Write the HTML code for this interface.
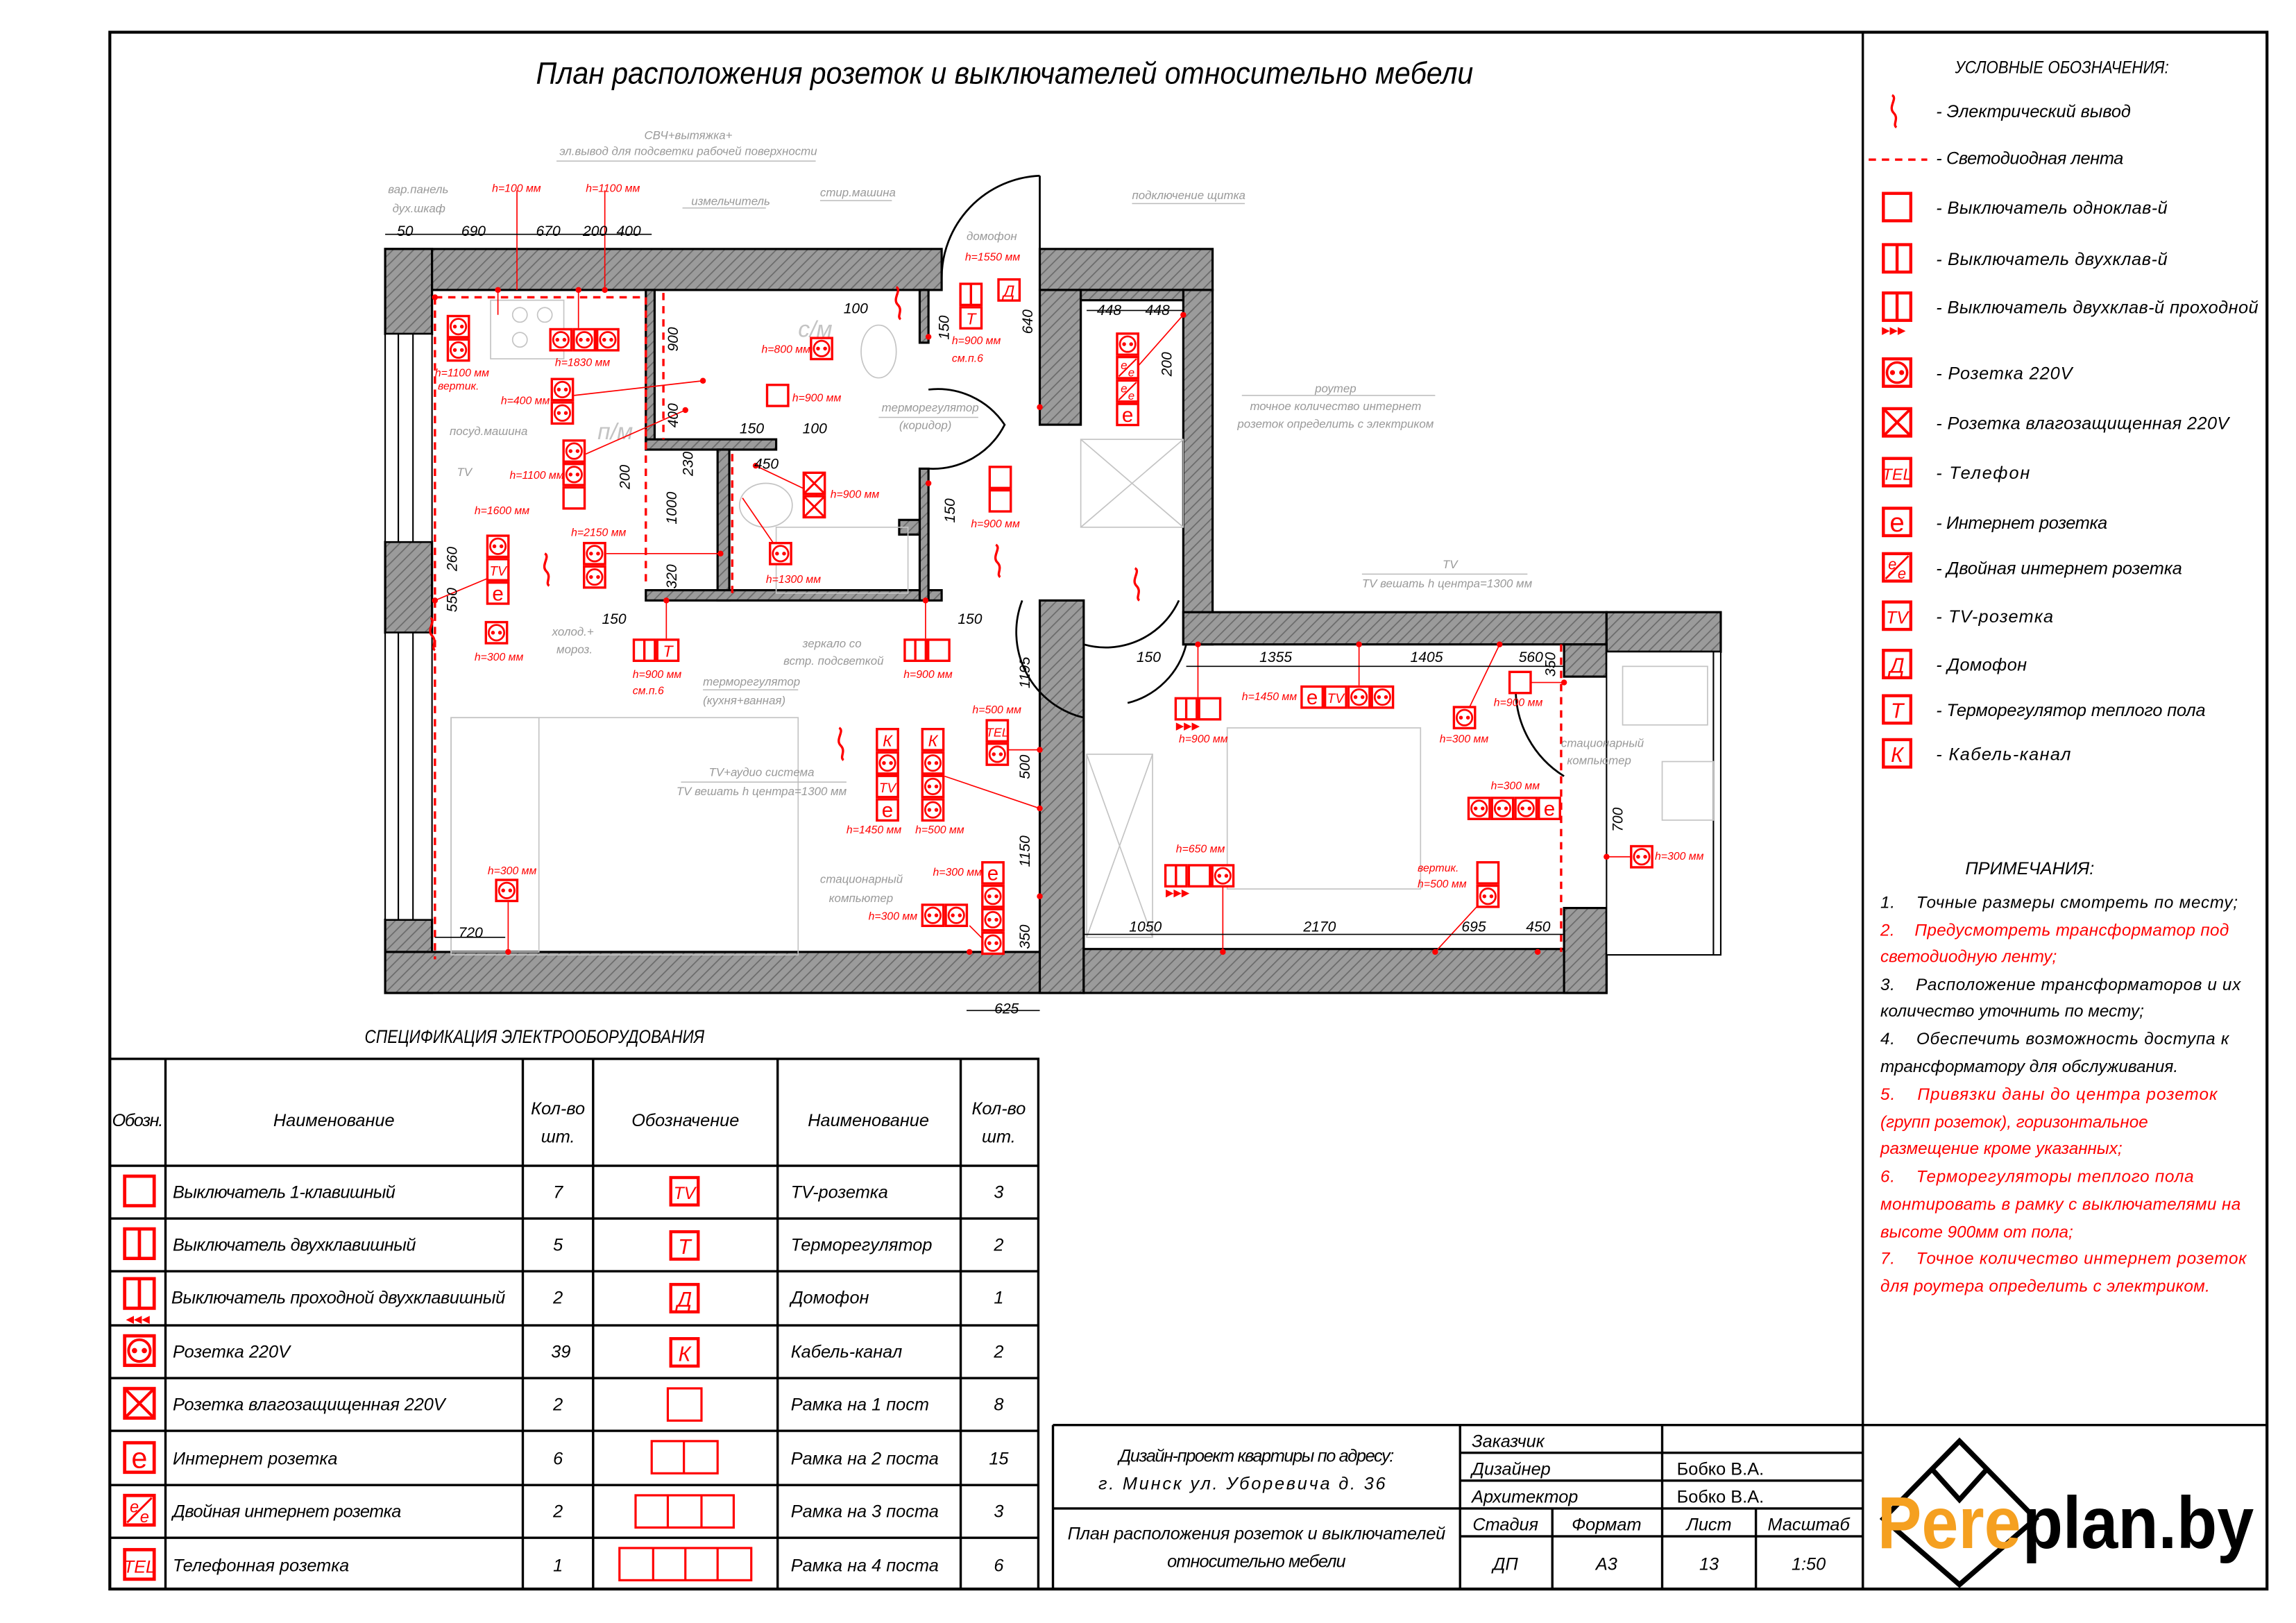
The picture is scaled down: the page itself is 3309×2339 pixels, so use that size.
<!DOCTYPE html>
<html><head><meta charset="utf-8"><style>
html,body{margin:0;padding:0;background:#fff}
svg{display:block}
text{font-family:"Liberation Sans Narrow","Liberation Sans",sans-serif;font-style:italic}
</style></head><body>
<svg width="3309" height="2339" viewBox="0 0 1567.8 1108.2" preserveAspectRatio="none" xmlns="http://www.w3.org/2000/svg">
<defs>
<pattern id="h" width="5" height="5" patternUnits="userSpaceOnUse" patternTransform="rotate(45)">
<rect width="5" height="5" fill="#9b9b9b"/><line x1="0" y1="0" x2="0" y2="5" stroke="#6a6a6a" stroke-width="1.6"/></pattern>
<g id="s"><rect x="0.8" y="0.8" width="14.4" height="14.4" fill="#fff" stroke="#f00" stroke-width="1.6"/><circle cx="8" cy="8" r="5.3" fill="none" stroke="#f00" stroke-width="1.3"/><circle cx="5.6" cy="8" r="1.3" fill="#f00"/><circle cx="10.4" cy="8" r="1.3" fill="#f00"/></g>
<g id="b"><rect x="0.8" y="0.8" width="14.4" height="14.4" fill="#fff" stroke="#f00" stroke-width="1.6"/></g>
<g id="b2"><rect x="0.8" y="0.8" width="14.4" height="14.4" fill="#fff" stroke="#f00" stroke-width="1.6"/><line x1="8" y1="1" x2="8" y2="15" stroke="#f00" stroke-width="1.6"/></g>
<g id="w"><rect x="0.8" y="0.8" width="14.4" height="14.4" fill="#fff" stroke="#f00" stroke-width="1.6"/><path d="M1 1L15 15M15 1L1 15" stroke="#f00" stroke-width="1.4"/></g>
<g id="e"><rect x="0.8" y="0.8" width="14.4" height="14.4" fill="#fff" stroke="#f00" stroke-width="1.6"/><text x="8" y="13" font-size="14" fill="#f00" text-anchor="middle" style="font-style:normal">e</text></g>
<g id="tv"><rect x="0.8" y="0.8" width="14.4" height="14.4" fill="#fff" stroke="#f00" stroke-width="1.6"/><text x="8" y="12" font-size="9" fill="#f00" text-anchor="middle">TV</text></g>
<g id="t"><rect x="0.8" y="0.8" width="14.4" height="14.4" fill="#fff" stroke="#f00" stroke-width="1.6"/><text x="8" y="12.5" font-size="11" fill="#f00" text-anchor="middle">Т</text></g>
<g id="k"><rect x="0.8" y="0.8" width="14.4" height="14.4" fill="#fff" stroke="#f00" stroke-width="1.6"/><text x="8" y="12.5" font-size="11" fill="#f00" text-anchor="middle">К</text></g>
<g id="d"><rect x="0.8" y="0.8" width="14.4" height="14.4" fill="#fff" stroke="#f00" stroke-width="1.6"/><text x="8" y="12.5" font-size="11" fill="#f00" text-anchor="middle">Д</text></g>
<g id="tel"><rect x="0.8" y="0.8" width="14.4" height="14.4" fill="#fff" stroke="#f00" stroke-width="1.6"/><text x="8" y="12" font-size="8.5" fill="#f00" text-anchor="middle">TEL</text></g>
<g id="ee"><rect x="0.8" y="0.8" width="14.4" height="14.4" fill="#fff" stroke="#f00" stroke-width="1.6"/><text x="5.5" y="9" font-size="8" fill="#f00" text-anchor="middle">e</text><text x="10.5" y="14" font-size="8" fill="#f00" text-anchor="middle">e</text><line x1="2" y1="14" x2="14" y2="2" stroke="#f00"/></g>
<path id="wave" d="M0 0c4 2-3 8 1 12s-1 8 2 10" fill="none" stroke="#f00" stroke-width="1.6"/>
</defs>

<rect x="75" y="22" width="1473" height="1063" fill="none" stroke="#000" stroke-width="2"/>
<line x1="1272" y1="22" x2="1272" y2="1085" stroke="#000" stroke-width="1.6"/>
<text x="686" y="57" font-size="21" text-anchor="middle" fill="#000" textLength="640" lengthAdjust="spacingAndGlyphs">План расположения розеток и выключателей относительно мебели</text>

<g fill="url(#h)" stroke="#000" stroke-width="1.5">
<rect x="263" y="170" width="380" height="28"/>
<rect x="263" y="170" width="32" height="58"/>
<rect x="263" y="370" width="32" height="62"/>
<rect x="263" y="628" width="32" height="50"/>
<rect x="263" y="650" width="477" height="28"/>
<rect x="710" y="170" width="118" height="28"/>
<rect x="710" y="198" width="28" height="92"/>
<rect x="808" y="198" width="20" height="242"/>
<rect x="808" y="418" width="289" height="22"/>
<rect x="1097" y="418" width="78" height="27"/>
<rect x="710" y="410" width="30" height="268"/>
<rect x="740" y="648" width="357" height="30"/>
<rect x="1068" y="440" width="29" height="22"/>
<rect x="1068" y="620" width="29" height="58"/>
<rect x="441" y="198" width="6" height="108"/>
<rect x="441" y="300" width="89" height="7"/>
<rect x="490" y="307" width="8" height="103"/>
<rect x="441" y="403" width="202" height="7"/>
<rect x="628" y="198" width="6" height="36"/>
<rect x="628" y="320" width="6" height="90"/>
<rect x="614" y="355" width="14" height="10"/>
<rect x="738" y="198" width="70" height="7"/>
</g>
<g stroke="#000" stroke-width="1" fill="#fff">
<rect x="263" y="228" width="32" height="142"/><line x1="272" y1="228" x2="272" y2="370"/><line x1="282" y1="228" x2="282" y2="370"/>
<rect x="263" y="432" width="32" height="196"/><line x1="272" y1="432" x2="272" y2="628"/><line x1="282" y1="432" x2="282" y2="628"/>
<rect x="1097" y="445" width="78" height="207"/><line x1="1170" y1="445" x2="1170" y2="652"/>
</g>
<g fill="none" stroke="#000" stroke-width="1.3">
<path d="M710 120A70 70 0 0 0 643 190"/><line x1="710" y1="120" x2="710" y2="198"/>
<path d="M634 266A55 55 0 0 1 686 290A55 55 0 0 1 634 320"/>
<path d="M698 410A60 60 0 0 0 740 490"/>
<path d="M740 440A55 55 0 0 0 805 410"/>
<path d="M810 440A55 55 0 0 1 770 480"/>
<path d="M1035 470A70 70 0 0 0 1068 530"/>
</g>
<g fill="none" stroke="#c4c4c4" stroke-width="0.8">
<rect x="308" y="490" width="237" height="162"/><rect x="308" y="490" width="60" height="160"/>
<rect x="838" y="497" width="132" height="110"/><rect x="742" y="515" width="45" height="125"/><path d="M742 515L787 640M787 515L742 640"/>
<rect x="738" y="300" width="70" height="60"/><path d="M738 300L808 360M808 300L738 360"/>
<rect x="335" y="205" width="50" height="40"/><circle cx="355" cy="215" r="5"/><circle cx="372" cy="215" r="5"/><circle cx="355" cy="232" r="5"/>
<ellipse cx="523" cy="345" rx="18" ry="15"/><rect x="530" y="360" width="90" height="45"/>
<ellipse cx="600" cy="240" rx="12" ry="18"/><rect x="1108" y="455" width="58" height="40"/><rect x="1135" y="520" width="35" height="40"/>
<text x="545" y="230" font-size="16" fill="#c4c4c4" stroke="none">с/м</text>
<text x="408" y="300" font-size="16" fill="#c4c4c4" stroke="none">п/м</text>
</g>
<g fill="none" stroke="#f00" stroke-width="1.6" stroke-dasharray="5 4">
<path d="M297 203H441V400"/><line x1="297" y1="203" x2="297" y2="655"/>
<line x1="453" y1="200" x2="453" y2="300"/><line x1="500" y1="310" x2="500" y2="405"/>
<line x1="1066" y1="440" x2="1066" y2="650"/>
</g>
<!-- red leader lines + dots -->
<g stroke="#f00" stroke-width="0.8" fill="none">
<path d="M353 198V130M413 198V130M395 198V224M340 198V215"/>
<path d="M392 270L480 260M400 310L468 280M414 378L492 378M340 392L297 410"/>
<path d="M455 436V410M632 436V410M347 616V650M662 632L680 650M687 512L710 512M645 530L710 552"/>
<path d="M558 338L516 318M533 378L507 340M770 258L808 215"/>
<path d="M818 476V440M928 468V440M1000 490L1024 440M1038 466H1068M835 606V650M1015 612L980 650M1121 585H1097"/>
</g>
<g fill="#f00">
<circle cx="297" cy="203" r="2"/><circle cx="340" cy="198" r="2"/><circle cx="395" cy="198" r="2"/><circle cx="413" cy="198" r="2"/>
<circle cx="480" cy="260" r="2"/><circle cx="468" cy="280" r="2"/><circle cx="492" cy="378" r="2"/><circle cx="297" cy="410" r="2"/>
<circle cx="455" cy="410" r="2"/><circle cx="632" cy="410" r="2"/><circle cx="347" cy="650" r="2"/><circle cx="662" cy="650" r="2"/>
<circle cx="710" cy="512" r="2"/><circle cx="710" cy="552" r="2"/><circle cx="710" cy="612" r="2"/><circle cx="516" cy="318" r="2"/>
<circle cx="808" cy="215" r="2"/><circle cx="818" cy="440" r="2"/><circle cx="928" cy="440" r="2"/><circle cx="1024" cy="440" r="2"/>
<circle cx="1068" cy="466" r="2"/><circle cx="835" cy="650" r="2"/><circle cx="980" cy="650" r="2"/><circle cx="1050" cy="650" r="2"/><circle cx="1097" cy="585" r="2"/>
<circle cx="710" cy="278" r="2"/><circle cx="634" cy="230" r="2"/><circle cx="634" cy="330" r="2"/>
</g>
<g stroke="#000" stroke-width="0.8" fill="none">
<line x1="263" y1="160" x2="445" y2="160"/><line x1="742" y1="212" x2="808" y2="212"/>
<line x1="810" y1="455" x2="1068" y2="455"/><line x1="740" y1="638" x2="1068" y2="638"/>
<line x1="297" y1="640" x2="345" y2="640"/><line x1="660" y1="690" x2="710" y2="690"/>
</g>
<g font-size="10" fill="#000">
<text x="271" y="161">50</text><text x="315" y="161">690</text><text x="366" y="161">670</text><text x="398" y="161">200</text><text x="421" y="161">400</text>
<text x="749" y="215">448</text><text x="782" y="215">448</text>
<text x="860" y="452">1355</text><text x="963" y="452">1405</text><text x="1037" y="452">560</text><text x="776" y="452">150</text>
<text x="771" y="636">1050</text><text x="890" y="636">2170</text><text x="998" y="636">695</text><text x="1042" y="636">450</text>
<text x="313" y="640">720</text><text x="679" y="692">625</text><text x="411" y="426">150</text><text x="654" y="426">150</text>
<text x="576" y="214">100</text><text x="505" y="296">150</text><text x="548" y="296">100</text><text x="515" y="320">450</text>
</g>
<g font-size="10" fill="#000">
<text transform="translate(463,240) rotate(-90)">900</text><text transform="translate(463,292) rotate(-90)">400</text>
<text transform="translate(430,334) rotate(-90)">200</text><text transform="translate(473,325) rotate(-90)">230</text>
<text transform="translate(462,358) rotate(-90)">1000</text><text transform="translate(462,402) rotate(-90)">320</text>
<text transform="translate(312,390) rotate(-90)">260</text><text transform="translate(312,418) rotate(-90)">550</text>
<text transform="translate(648,232) rotate(-90)">150</text><text transform="translate(705,228) rotate(-90)">640</text>
<text transform="translate(800,257) rotate(-90)">200</text><text transform="translate(652,357) rotate(-90)">150</text>
<text transform="translate(703,470) rotate(-90)">1195</text><text transform="translate(703,532) rotate(-90)">500</text>
<text transform="translate(703,592) rotate(-90)">1150</text><text transform="translate(703,648) rotate(-90)">350</text>
<text transform="translate(1062,462) rotate(-90)">350</text><text transform="translate(1108,568) rotate(-90)">700</text>
</g>
<g font-size="8" fill="#999">
<text x="265" y="132">вар.панель</text><text x="268" y="145">дух.шкаф</text>
<text x="470" y="95" text-anchor="middle">СВЧ+вытяжка+</text><text x="470" y="106" text-anchor="middle">эл.вывод для подсветки рабочей поверхности</text>
<text x="472" y="140">измельчитель</text><text x="560" y="134">стир.машина</text><text x="773" y="136">подключение щитка</text>
<text x="660" y="164">домофон</text><text x="602" y="281">терморегулятор</text><text x="614" y="293">(коридор)</text>
<text x="912" y="268" text-anchor="middle">роутер</text><text x="912" y="280" text-anchor="middle">точное количество интернет</text><text x="912" y="292" text-anchor="middle">розеток определить с электриком</text>
<text x="307" y="297">посуд.машина</text><text x="312" y="325">TV</text><text x="377" y="434">холод.+</text><text x="380" y="446">мороз.</text>
<text x="548" y="442">зеркало со</text><text x="535" y="454">встр. подсветкой</text>
<text x="480" y="468">терморегулятор</text><text x="480" y="481">(кухня+ванная)</text>
<text x="520" y="530" text-anchor="middle">TV+аудио система</text><text x="520" y="543" text-anchor="middle">TV вешать h центра=1300 мм</text>
<text x="560" y="603">стационарный</text><text x="566" y="616">компьютер</text>
<text x="985" y="388">TV</text><text x="930" y="401">TV вешать h центра=1300 мм</text>
<text x="1066" y="510">стационарный</text><text x="1070" y="522">компьютер</text>
</g>
<g stroke="#bbb" stroke-width="0.7" fill="none">
<path d="M380 110H557M466 142H523M560 137H609M773 139H850M600 285H668M480 471H545M465 534H578M930 392H1043M848 270H980"/>
</g>
<g>
<use href="#s" x="305" y="215"/><use href="#s" x="305" y="231"/>
<use href="#s" x="375" y="224"/><use href="#s" x="391" y="224"/><use href="#s" x="407" y="224"/>
<use href="#s" x="376" y="258"/><use href="#s" x="376" y="274"/>
<use href="#s" x="384" y="300"/><use href="#s" x="384" y="316"/><use href="#b" x="384" y="332"/>
<use href="#s" x="332" y="365"/><use href="#tv" x="332" y="381"/><use href="#e" x="332" y="397"/>
<use href="#s" x="398" y="370"/><use href="#s" x="398" y="386"/>
<use href="#s" x="331" y="424"/>
<use href="#b2" x="432" y="436"/><use href="#t" x="448" y="436"/>
<use href="#b2" x="617" y="436"/><use href="#b" x="633" y="436"/>
<use href="#s" x="338" y="600"/>
<use href="#k" x="598" y="497"/><use href="#s" x="598" y="513"/><use href="#tv" x="598" y="529"/><use href="#e" x="598" y="545"/>
<use href="#k" x="629" y="497"/><use href="#s" x="629" y="513"/><use href="#s" x="629" y="529"/><use href="#s" x="629" y="545"/>
<use href="#tel" x="673" y="491"/><use href="#s" x="673" y="507"/>
<use href="#e" x="670" y="588"/><use href="#s" x="670" y="604"/><use href="#s" x="670" y="620"/><use href="#s" x="670" y="636"/>
<use href="#s" x="629" y="617"/><use href="#s" x="645" y="617"/>
<use href="#b" x="523" y="262"/><use href="#w" x="548" y="322"/><use href="#w" x="548" y="338"/>
<use href="#s" x="525" y="370"/><use href="#s" x="553" y="230"/>
<use href="#b2" x="655" y="193"/><use href="#t" x="655" y="209"/><use href="#d" x="681" y="190"/>
<use href="#b" x="675" y="318"/><use href="#b" x="675" y="334"/>
<use href="#s" x="762" y="227"/><use href="#ee" x="762" y="243"/><use href="#ee" x="762" y="259"/><use href="#e" x="762" y="275"/>
<use href="#b2" x="802" y="476"/><use href="#b" x="818" y="476"/>
<use href="#e" x="888" y="468"/><use href="#tv" x="904" y="468"/><use href="#s" x="920" y="468"/><use href="#s" x="936" y="468"/>
<use href="#s" x="992" y="482"/><use href="#b" x="1030" y="458"/>
<use href="#s" x="1002" y="544"/><use href="#s" x="1018" y="544"/><use href="#s" x="1034" y="544"/><use href="#e" x="1050" y="544"/>
<use href="#b2" x="795" y="590"/><use href="#b" x="811" y="590"/><use href="#s" x="827" y="590"/>
<use href="#b" x="1008" y="588"/><use href="#s" x="1008" y="604"/>
<use href="#s" x="1113" y="577"/>
<use href="#wave" x="372" y="378"/><use href="#wave" x="680" y="372"/><use href="#wave" x="775" y="388"/><use href="#wave" x="573" y="497"/>
<use href="#wave" x="612" y="196"/><use href="#wave" x="294" y="422"/>
</g>
<g font-size="7.5" fill="#f00">
<text x="336" y="131">h=100 мм</text><text x="400" y="131">h=1100 мм</text>
<text x="297" y="257">h=1100 мм</text><text x="299" y="266">вертик.</text><text x="379" y="250">h=1830 мм</text>
<text x="342" y="276">h=400 мм</text><text x="348" y="327">h=1100 мм</text><text x="324" y="351">h=1600 мм</text>
<text x="390" y="366">h=2150 мм</text><text x="324" y="451">h=300 мм</text><text x="432" y="463">h=900 мм</text><text x="432" y="474">см.п.6</text>
<text x="617" y="463">h=900 мм</text><text x="333" y="597">h=300 мм</text>
<text x="578" y="569">h=1450 мм</text><text x="625" y="569">h=500 мм</text><text x="664" y="487">h=500 мм</text>
<text x="637" y="598">h=300 мм</text><text x="593" y="628">h=300 мм</text>
<text x="541" y="274">h=900 мм</text><text x="567" y="340">h=900 мм</text><text x="523" y="398">h=1300 мм</text><text x="520" y="241">h=800 мм</text>
<text x="659" y="178">h=1550 мм</text><text x="650" y="235">h=900 мм</text><text x="650" y="247">см.п.6</text>
<text x="663" y="360">h=900 мм</text>
<text x="805" y="507">h=900 мм</text><text x="848" y="478">h=1450 мм</text><text x="983" y="507">h=300 мм</text><text x="1020" y="482">h=900 мм</text>
<text x="1018" y="539">h=300 мм</text><text x="803" y="582">h=650 мм</text><text x="968" y="595">вертик.</text><text x="968" y="606">h=500 мм</text>
<text x="1130" y="587">h=300 мм</text>
</g>
<g fill="#f00" font-size="7" style="font-style:normal"><text x="803" y="498" style="font-style:normal">▶▶▶</text><text x="796" y="612" style="font-style:normal">▶▶▶</text></g>

<text x="1408" y="50" font-size="12" text-anchor="middle" textLength="146" lengthAdjust="spacingAndGlyphs">УСЛОВНЫЕ ОБОЗНАЧЕНИЯ:</text>
<use href="#wave" x="1292" y="65"/>
<line x1="1276" y1="109" x2="1316" y2="109" stroke="#f00" stroke-width="1.6" stroke-dasharray="5 4"/>
<g transform="translate(1285,131) scale(1.3)"><use href="#b"/></g>
<g transform="translate(1285,166) scale(1.3)"><use href="#b2"/></g>
<g transform="translate(1285,199) scale(1.3)"><use href="#b2"/></g>
<text x="1285" y="228" font-size="7" fill="#f00" style="font-style:normal">▶▶▶</text>
<g transform="translate(1285,244) scale(1.3)"><use href="#s"/></g>
<g transform="translate(1285,278) scale(1.3)"><use href="#w"/></g>
<g transform="translate(1285,312) scale(1.3)"><use href="#tel"/></g>
<g transform="translate(1285,346) scale(1.3)"><use href="#e"/></g>
<g transform="translate(1285,377) scale(1.3)"><use href="#ee"/></g>
<g transform="translate(1285,410) scale(1.3)"><use href="#tv"/></g>
<g transform="translate(1285,443) scale(1.3)"><use href="#d"/></g>
<g transform="translate(1285,474) scale(1.3)"><use href="#t"/></g>
<g transform="translate(1285,504) scale(1.3)"><use href="#k"/></g>
<g font-size="12" fill="#000" lengthAdjust="spacingAndGlyphs">
<text x="1322" y="80" textLength="133">- Электрический вывод</text><text x="1322" y="112" textLength="128">- Светодиодная лента</text>
<text x="1322" y="146" textLength="158">- Выключатель одноклав-й</text><text x="1322" y="181" textLength="158">- Выключатель двухклав-й</text>
<text x="1322" y="214" textLength="220">- Выключатель двухклав-й проходной</text><text x="1322" y="259" textLength="93">- Розетка 220V</text>
<text x="1322" y="293" textLength="200">- Розетка влагозащищенная 220V</text><text x="1322" y="327" textLength="64">- Телефон</text>
<text x="1322" y="361" textLength="117">- Интернет розетка</text><text x="1322" y="392" textLength="168">- Двойная интернет розетка</text>
<text x="1322" y="425" textLength="80">- TV-розетка</text><text x="1322" y="458" textLength="62">- Домофон</text>
<text x="1322" y="489" textLength="184">- Терморегулятор теплого пола</text><text x="1322" y="519" textLength="92">- Кабель-канал</text>
</g>
<text x="1386" y="597" font-size="12" text-anchor="middle">ПРИМЕЧАНИЯ:</text>
<g font-size="11.5" lengthAdjust="spacingAndGlyphs">
<text x="1284" y="620" textLength="244">1.&#160;&#160;&#160;&#160;Точные размеры смотреть по месту;</text>
<text x="1284" y="639" fill="#f00" textLength="238">2.&#160;&#160;&#160;&#160;Предусмотреть трансформатор под</text>
<text x="1284" y="657" fill="#f00">светодиодную ленту;</text>
<text x="1284" y="676" textLength="246">3.&#160;&#160;&#160;&#160;Расположение трансформаторов и их</text>
<text x="1284" y="694">количество уточнить по месту;</text>
<text x="1284" y="713" textLength="238">4.&#160;&#160;&#160;&#160;Обеспечить возможность доступа к</text>
<text x="1284" y="732">трансформатору для обслуживания.</text>
<text x="1284" y="751" fill="#f00" textLength="230">5.&#160;&#160;&#160;&#160;Привязки даны до центра розеток</text>
<text x="1284" y="770" fill="#f00">(групп розеток), горизонтальное</text>
<text x="1284" y="788" fill="#f00">размещение кроме указанных;</text>
<text x="1284" y="807" fill="#f00" textLength="214">6.&#160;&#160;&#160;&#160;Терморегуляторы теплого пола</text>
<text x="1284" y="826" fill="#f00" textLength="246">монтировать в рамку с выключателями на</text>
<text x="1284" y="845" fill="#f00">высоте 900мм от пола;</text>
<text x="1284" y="863" fill="#f00" textLength="250">7.&#160;&#160;&#160;&#160;Точное количество интернет розеток</text>
<text x="1284" y="882" fill="#f00" textLength="225">для роутера определить с электриком.</text>
</g>

<text x="365" y="712" font-size="12.5" text-anchor="middle" textLength="232" lengthAdjust="spacingAndGlyphs">СПЕЦИФИКАЦИЯ ЭЛЕКТРООБОРУДОВАНИЯ</text>
<g stroke="#000" stroke-width="1.6" fill="none">
<rect x="75" y="723" width="634" height="362"/>
<path d="M113 723V1085M357 723V1085M405 723V1085M531 723V1085M656 723V1085"/>
<path d="M75 796H709M75 832H709M75 868H709M75 905H709M75 941H709M75 977H709M75 1014H709M75 1050H709"/>
</g>
<g font-size="12" fill="#000" lengthAdjust="spacingAndGlyphs">
<text x="94" y="769" text-anchor="middle" textLength="35">Обозн.</text><text x="228" y="769" text-anchor="middle">Наименование</text>
<text x="381" y="761" text-anchor="middle">Кол-во</text><text x="381" y="780" text-anchor="middle">шт.</text>
<text x="468" y="769" text-anchor="middle">Обозначение</text><text x="593" y="769" text-anchor="middle">Наименование</text>
<text x="682" y="761" text-anchor="middle">Кол-во</text><text x="682" y="780" text-anchor="middle">шт.</text>
<text x="118" y="818" textLength="152">Выключатель 1-клавишный</text><text x="118" y="854" textLength="166">Выключатель двухклавишный</text>
<text x="117" y="890" textLength="228">Выключатель проходной двухклавишный</text><text x="118" y="927">Розетка 220V</text>
<text x="118" y="963" textLength="186">Розетка влагозащищенная 220V</text><text x="118" y="1000">Интернет розетка</text>
<text x="118" y="1036" textLength="156">Двойная интернет розетка</text><text x="118" y="1073">Телефонная розетка</text>
<text x="381" y="818" text-anchor="middle">7</text><text x="381" y="854" text-anchor="middle">5</text><text x="381" y="890" text-anchor="middle">2</text>
<text x="383" y="927" text-anchor="middle">39</text><text x="381" y="963" text-anchor="middle">2</text><text x="381" y="1000" text-anchor="middle">6</text>
<text x="381" y="1036" text-anchor="middle">2</text><text x="381" y="1073" text-anchor="middle">1</text>
<text x="540" y="818">TV-розетка</text><text x="540" y="854">Терморегулятор</text><text x="540" y="890">Домофон</text>
<text x="540" y="927">Кабель-канал</text><text x="540" y="963">Рамка на 1 пост</text><text x="540" y="1000">Рамка на 2 поста</text>
<text x="540" y="1036">Рамка на 3 поста</text><text x="540" y="1073">Рамка на 4 поста</text>
<text x="682" y="818" text-anchor="middle">3</text><text x="682" y="854" text-anchor="middle">2</text><text x="682" y="890" text-anchor="middle">1</text>
<text x="682" y="927" text-anchor="middle">2</text><text x="682" y="963" text-anchor="middle">8</text><text x="682" y="1000" text-anchor="middle">15</text>
<text x="682" y="1036" text-anchor="middle">3</text><text x="682" y="1073" text-anchor="middle">6</text>
</g>
<g transform="translate(84,802) scale(1.4)"><use href="#b"/></g>
<g transform="translate(84,838) scale(1.4)"><use href="#b2"/></g>
<g transform="translate(84,872) scale(1.4)"><use href="#b2"/></g>
<text x="86" y="903" font-size="7" fill="#f00" style="font-style:normal">◀◀◀</text>
<g transform="translate(84,911) scale(1.4)"><use href="#s"/></g>
<g transform="translate(84,947) scale(1.4)"><use href="#w"/></g>
<g transform="translate(84,984) scale(1.4)"><use href="#e"/></g>
<g transform="translate(84,1020) scale(1.4)"><use href="#ee"/></g>
<g transform="translate(84,1057) scale(1.4)"><use href="#tel"/></g>
<g transform="translate(457,803) scale(1.3)"><use href="#tv"/></g>
<g transform="translate(457,840) scale(1.3)"><use href="#t"/></g>
<g transform="translate(457,876) scale(1.3)"><use href="#d"/></g>
<g transform="translate(457,913) scale(1.3)"><use href="#k"/></g>
<g fill="none" stroke="#f00" stroke-width="1.5">
<rect x="456" y="948" width="23" height="22"/>
<rect x="445" y="984" width="45" height="22"/><line x1="467" y1="984" x2="467" y2="1006"/>
<rect x="434" y="1021" width="67" height="22"/><line x1="456" y1="1021" x2="456" y2="1043"/><line x1="479" y1="1021" x2="479" y2="1043"/>
<rect x="423" y="1057" width="90" height="22"/><line x1="446" y1="1057" x2="446" y2="1079"/><line x1="468" y1="1057" x2="468" y2="1079"/><line x1="490" y1="1057" x2="490" y2="1079"/>
</g>

<g stroke="#000" stroke-width="1.6" fill="none">
<path d="M719 973H1548M719 973V1085M719 1030H997M997 973V1085M1135 973V1085M1272 973V1085"/>
<path d="M997 992H1272M997 1011H1272M997 1030H1272M997 1049H1272M1060 1030V1085M1199 1030V1085"/>
</g>
<g font-size="12" fill="#000" lengthAdjust="spacingAndGlyphs">
<text x="858" y="998" text-anchor="middle" textLength="188">Дизайн-проект квартиры по адресу:</text>
<text x="848" y="1017" text-anchor="middle" textLength="196">г. Минск ул. Уборевича д. 36</text>
<text x="858" y="1051" text-anchor="middle" textLength="258">План расположения розеток и выключателей</text>
<text x="858" y="1070" text-anchor="middle" textLength="122">относительно мебели</text>
<text x="1005" y="988">Заказчик</text><text x="1005" y="1007">Дизайнер</text><text x="1005" y="1026">Архитектор</text>
<text x="1145" y="1007" style="font-style:normal">Бобко В.А.</text><text x="1145" y="1026" style="font-style:normal">Бобко В.А.</text>
<text x="1028" y="1045" text-anchor="middle">Стадия</text><text x="1097" y="1045" text-anchor="middle">Формат</text>
<text x="1167" y="1045" text-anchor="middle">Лист</text><text x="1235" y="1045" text-anchor="middle">Масштаб</text>
<text x="1028" y="1072" text-anchor="middle">ДП</text><text x="1097" y="1072" text-anchor="middle">А3</text>
<text x="1167" y="1072" text-anchor="middle">13</text><text x="1235" y="1072" text-anchor="middle">1:50</text>
</g>
<g fill="none" stroke="#000" stroke-width="3.5">
<path d="M1338 984L1390 1037L1338 1082L1286 1037Z"/><path d="M1320 1004L1338 1024L1356 1004"/>
</g>
<text x="1282" y="1057" font-size="50" font-weight="bold" fill="#f5a020" textLength="98" lengthAdjust="spacingAndGlyphs" style="font-style:normal">Pere</text>
<text x="1381" y="1057" font-size="50" font-weight="bold" fill="#000" textLength="158" lengthAdjust="spacingAndGlyphs" style="font-style:normal">plan.by</text>
</svg>
</body></html>
